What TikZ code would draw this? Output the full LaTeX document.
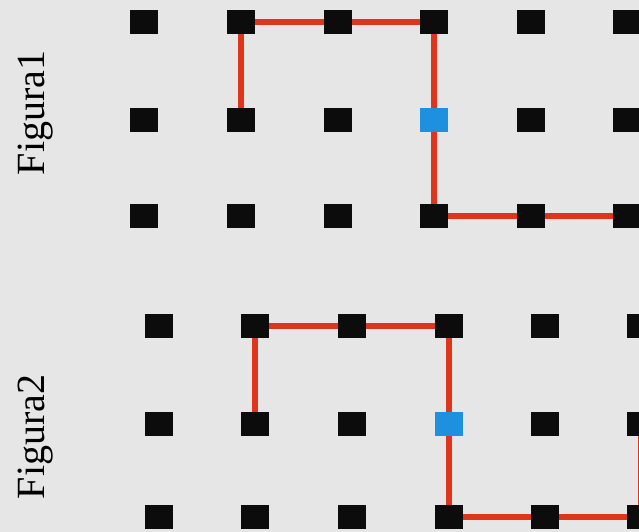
\documentclass[tikz,border=0pt]{standalone}
\usepackage{fontspec}
\setmainfont{Liberation Serif}
\definecolor{bg}{HTML}{E6E6E6}
\definecolor{lnred}{HTML}{E0341C}
\definecolor{sqblue}{HTML}{1E90E0}
\definecolor{sqblack}{HTML}{0C0C0C}
\tikzset{
  sq/.style={rectangle, fill=sqblack, minimum width=28pt, minimum height=24pt, inner sep=0pt},
  bsq/.style={sq, fill=sqblue},
  path/.style={draw=lnred, line width=6pt},
  lab/.style={rotate=90, font=\fontsize{40}{40}\selectfont, inner sep=0pt}
}
\begin{document}
\begin{tikzpicture}[x=1pt,y=-1pt]
\fill[bg] (0,0) rectangle (639,532);
\useasboundingbox (0,0) rectangle (639,532);
% Figure 1
\foreach \c/\x in {1/144,2/241,3/337.5,4/434,5/531,6/627}{
  \foreach \r/\y in {1/22,2/120,3/216}{
    \coordinate (a\c\r) at (\x,\y);
  }
}
% Figure 2
\foreach \c/\x in {1/159,2/255,3/352,4/449,5/545,6/641}{
  \foreach \r/\y in {1/326,2/424,3/517}{
    \coordinate (b\c\r) at (\x,\y);
  }
}
% red paths
\draw[path] (a22) -- (a21) -- (a31) -- (a41) -- (a42) -- (a43) -- (a53) -- (a63);
\draw[path] (b22) -- (b21) -- (b31) -- (b41) -- (b42) -- (b43) -- (b53) -- (b63) -- (b62);
% squares
\foreach \c in {1,...,6}{
  \foreach \r in {1,2,3}{
    \node[sq] (na\c\r) at (a\c\r) {};
    \node[sq] (nb\c\r) at (b\c\r) {};
  }
}
\node[bsq] (blueA) at (a42) {};
\node[bsq] (blueB) at (b42) {};
% labels
\node[lab] (labA) at (36,113) {Figura1};
\node[lab] (labB) at (36,437) {Figura2};
\end{tikzpicture}
\end{document}
